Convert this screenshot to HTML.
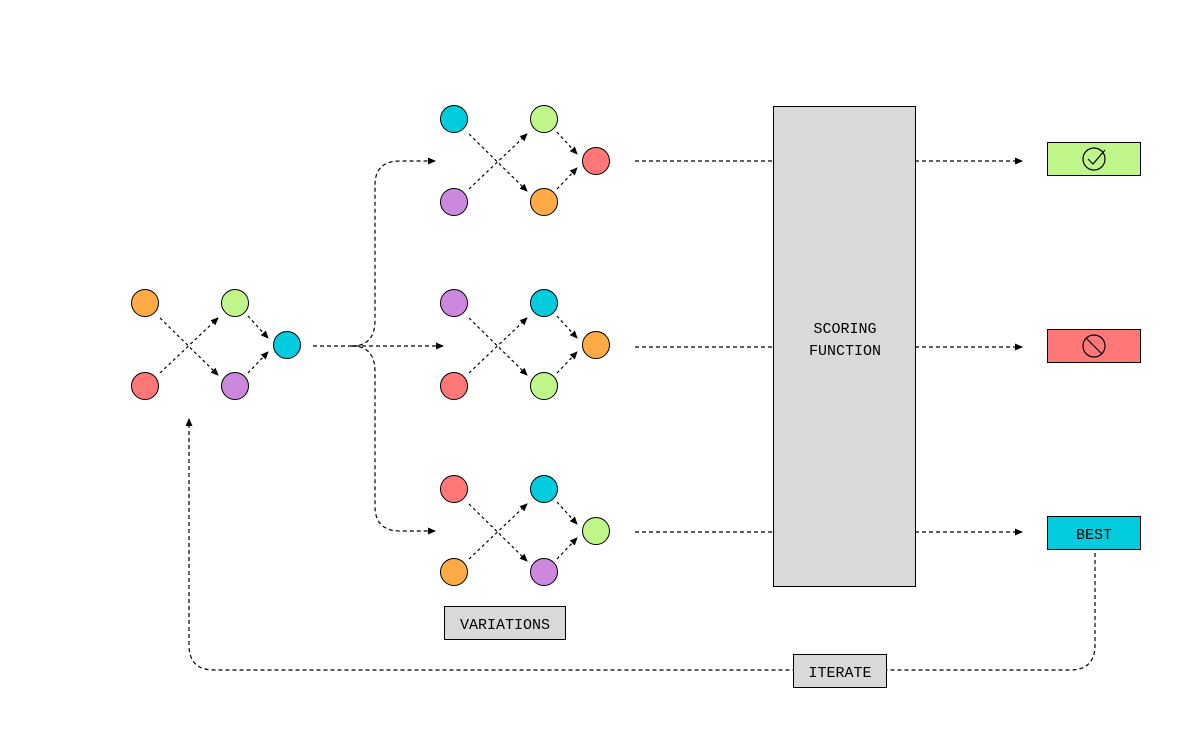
<!DOCTYPE html>
<html><head><style>body{margin:0;background:#fff}svg{display:block}text{font-family:"Liberation Mono",monospace;font-size:15px;fill:#000}</style></head><body>
<svg width="1200" height="736" viewBox="0 0 1200 736" xmlns="http://www.w3.org/2000/svg">
<defs><marker id="a" markerWidth="8" markerHeight="8" refX="7" refY="4" orient="auto" markerUnits="userSpaceOnUse"><path d="M0,0.5 L8,4 L0,7.5Z" fill="#000"/></marker>
<g id="net">
<g stroke="#000" stroke-width="1.2" stroke-dasharray="3,3" fill="none" marker-end="url(#a)">
<path d="M160,318 L218,375"/><path d="M160,373 L218,318"/><path d="M248,316 L268,338"/><path d="M248,373 L268,352"/></g></g></defs>
<g stroke="#000" stroke-width="1.2" stroke-dasharray="4,3" fill="none">
<path d="M313,346 L443,346" marker-end="url(#a)"/>
<path d="M352,346 Q375,346 375,320 L375,185 Q375,161 400,161 L435,161" marker-end="url(#a)"/>
<path d="M352,346 Q375,346 375,372 L375,506 Q375,531 400,531 L435,531" marker-end="url(#a)"/>
<path d="M635,161 L773,161"/><path d="M635,347 L773,347"/><path d="M635,532 L773,532"/>
<path d="M915,161 L1022,161" marker-end="url(#a)"/><path d="M915,347 L1022,347" marker-end="url(#a)"/><path d="M915,532 L1022,532" marker-end="url(#a)"/>
<path d="M1095,553 L1095,645 Q1095,670 1070,670 L214,670 Q189,670 189,645 L189,419" marker-end="url(#a)"/>
</g>
<use href="#net"/>
<use href="#net" transform="translate(309,-184)"/>
<use href="#net" transform="translate(309,0)"/>
<use href="#net" transform="translate(309,186)"/>
<g stroke="#000" stroke-width="1">
<circle cx="145" cy="303" r="13.5" fill="#ffaa44"/><circle cx="145" cy="386" r="13.5" fill="#ff7777"/><circle cx="235" cy="303" r="13.5" fill="#c0f58a"/><circle cx="235" cy="386" r="13.5" fill="#cc88dd"/><circle cx="287" cy="345" r="13.5" fill="#00ccdd"/>
<circle cx="454" cy="119" r="13.5" fill="#00ccdd"/><circle cx="454" cy="202" r="13.5" fill="#cc88dd"/><circle cx="544" cy="119" r="13.5" fill="#c0f58a"/><circle cx="544" cy="202" r="13.5" fill="#ffaa44"/><circle cx="596" cy="161" r="13.5" fill="#ff7777"/>
<circle cx="454" cy="303" r="13.5" fill="#cc88dd"/><circle cx="454" cy="386" r="13.5" fill="#ff7777"/><circle cx="544" cy="303" r="13.5" fill="#00ccdd"/><circle cx="544" cy="386" r="13.5" fill="#c0f58a"/><circle cx="596" cy="345" r="13.5" fill="#ffaa44"/>
<circle cx="454" cy="489" r="13.5" fill="#ff7777"/><circle cx="454" cy="572" r="13.5" fill="#ffaa44"/><circle cx="544" cy="489" r="13.5" fill="#00ccdd"/><circle cx="544" cy="572" r="13.5" fill="#cc88dd"/><circle cx="596" cy="531" r="13.5" fill="#c0f58a"/>
<rect x="773.5" y="106.5" width="142" height="480" fill="#d9d9d9"/>
<rect x="1047.5" y="142.5" width="93" height="33" fill="#c0f58a"/>
<rect x="1047.5" y="329.5" width="93" height="33" fill="#ff7777"/>
<rect x="1047.5" y="516.5" width="93" height="33" fill="#00ccdd"/>
<rect x="444.5" y="606.5" width="121" height="33" fill="#d9d9d9"/>
<rect x="793.5" y="654.5" width="93" height="33" fill="#d9d9d9"/>
</g>
<g stroke="#000" stroke-width="1.2" fill="none">
<circle cx="1094" cy="159" r="11"/><path d="M1088,159 L1093,164 L1105,150"/>
<circle cx="1094" cy="346" r="11"/><path d="M1086,338 L1102,354"/>
</g>
<text x="845" y="333" text-anchor="middle">SCORING</text>
<text x="845" y="355" text-anchor="middle">FUNCTION</text>
<text x="1094" y="539" text-anchor="middle">BEST</text>
<text x="505" y="629" text-anchor="middle">VARIATIONS</text>
<text x="840" y="677" text-anchor="middle">ITERATE</text>
</svg>
</body></html>
